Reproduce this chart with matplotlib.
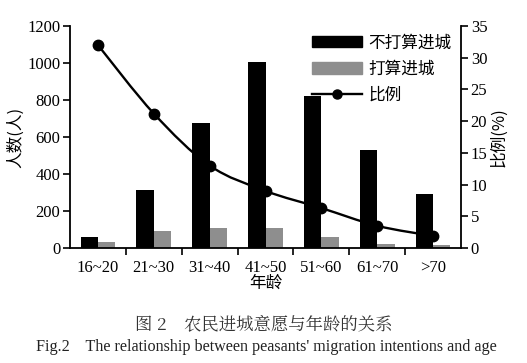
import numpy as np
import matplotlib.pyplot as plt
from matplotlib.path import Path
from matplotlib.patches import PathPatch
from matplotlib.lines import Line2D
from matplotlib.patches import Patch

plt.rcParams['font.family'] = ['Liberation Serif', 'Noto Sans CJK SC']

# data
ages = ['16~20', '21~30', '31~40', '41~50', '51~60', '61~70', '>70']
no_move = [60, 315, 675, 1003, 823, 532, 290]     # 不打算进城
move = [32, 92, 108, 108, 60, 22, 14]             # 打算进城
ratio = [32.0, 21.2, 13.0, 9.0, 6.3, 3.5, 1.9]    # 比例(%)

cjk = ['Noto Sans CJK SC', 'DejaVu Sans']

fig = plt.figure(figsize=(5.27, 3.63), dpi=100)
ax = fig.add_axes([70 / 527, 1 - 248 / 363, 391 / 527, 222 / 363])
x = np.arange(len(ages))
w = 0.31
ax.bar(x - w / 2, no_move, w, color='black')
ax.bar(x + w / 2, move, w, color='#8e8e8e')

ax.set_xlim(-0.5, len(ages) - 0.5)
ax.set_ylim(0, 1200)
ax.set_yticks(range(0, 1201, 200))
ax.set_xticks(x)
ax.set_xticklabels(ages, fontsize=12)
ax.set_xticks(np.arange(0.5, len(ages) - 0.5), minor=True)
ax.tick_params(axis='x', which='major', length=0, pad=9)
ax.tick_params(axis='x', which='minor', length=5, width=1.2, direction='out')
ax.tick_params(axis='y', labelsize=12, length=5, width=1.2, direction='out', pad=2)
ax.spines['top'].set_visible(False)
ax.spines['right'].set_visible(False)
for s in ['left', 'bottom']:
    ax.spines[s].set_linewidth(1.3)
ax.set_ylabel('人数(人)', family=cjk, fontsize=12, labelpad=2)
ax.set_xlabel('年龄', family=cjk, fontsize=12, labelpad=-1)

ax2 = ax.twinx()
ax2.set_ylim(0, 35)
ax2.set_yticks(range(0, 36, 5))
ax2.tick_params(axis='y', labelsize=12, length=5, width=1.2, direction='out', pad=2)
for s in ['top', 'left', 'bottom']:
    ax2.spines[s].set_visible(False)
ax2.spines['right'].set_linewidth(1.3)
ax2.set_ylabel('比例(%)', family=cjk, fontsize=12, rotation=90, labelpad=2)

# smooth curve through the points (Catmull-Rom as cubic bezier segments)
pts = np.column_stack([x, ratio]).astype(float)
verts = [tuple(pts[0])]
codes = [Path.MOVETO]
for i in range(len(pts) - 1):
    p0 = pts[i - 1] if i > 0 else pts[i]
    p1, p2 = pts[i], pts[i + 1]
    p3 = pts[i + 2] if i + 2 < len(pts) else pts[i + 1]
    c1 = p1 + (p2 - p0) / 6
    c2 = p2 - (p3 - p1) / 6
    verts += [tuple(c1), tuple(c2), tuple(p2)]
    codes += [Path.CURVE4] * 3
ax2.add_patch(PathPatch(Path(verts, codes), fill=False, lw=1.7, ec='black'))
ax2.plot(x, ratio, 'o', color='black', ms=7.5)

handles = [Patch(color='black'), Patch(color='#8e8e8e'),
           Line2D([], [], color='black', marker='o', lw=1.7, ms=6.5)]
ax2.legend(handles, ['不打算进城', '打算进城', '比例'], prop={'family': cjk, 'size': 12},
           frameon=False, loc='upper right', bbox_to_anchor=(1.015, 1.03),
           handlelength=3.0, handleheight=0.7, labelspacing=0.55, handletextpad=0.4)

fig.text(0.5, 1 - 325 / 363, '图 2　农民进城意愿与年龄的关系', family=['Noto Serif CJK SC', 'Noto Sans CJK SC'],
         fontsize=12.5, ha='center', va='center', color='#333333')
fig.text(0.505, 1 - 347 / 363, "Fig.2    The relationship between peasants' migration intentions and age",
         fontsize=11.6, ha='center', va='center', color='#222222')

fig.savefig('out.png', dpi=100)
